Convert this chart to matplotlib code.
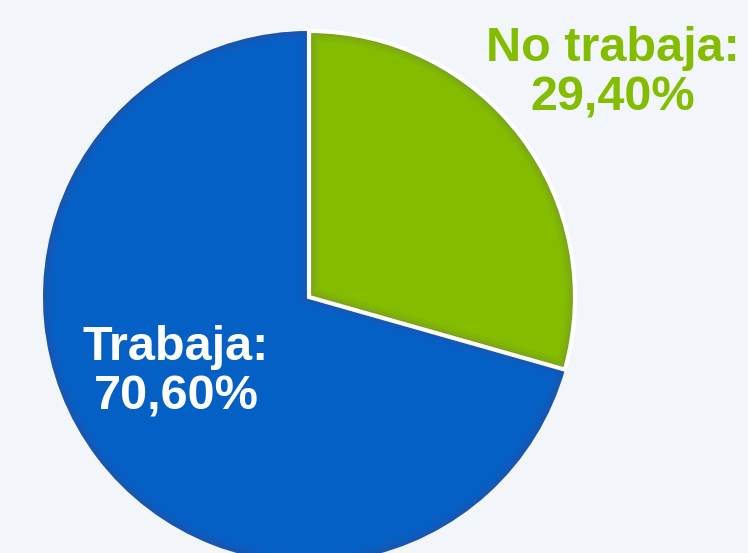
import matplotlib.pyplot as plt
from matplotlib.patches import Wedge

labels = ["Trabaja:\n70,60%", "No trabaja:\n29,40%"]
values = [70.6, 29.4]
colors = ["#0560C6", "#84BD00"]
explode = [0, 0.01]

fig = plt.figure(figsize=(7.48, 5.53), dpi=100)
fig.patch.set_facecolor("#F2F5FA")
ax = fig.add_axes([0, 0, 1, 1])
ax.set_facecolor("#F2F5FA")

# slices go counter-clockwise from the top, blue first
wedges, _ = ax.pie(values, colors=colors, explode=explode, startangle=90,
                   center=(309, 256), radius=266, frame=True)
ax.set_xlim(0, 748)
ax.set_ylim(0, 553)
ax.set_aspect("equal")
ax.axis("off")

# soft dark glow along the inside of each slice edge
for w in wedges:
    for lw, a in [(14, 0.05), (9, 0.07), (5, 0.09), (2.5, 0.12)]:
        g = Wedge(w.center, w.r, w.theta1, w.theta2, facecolor="none",
                  edgecolor="#5a3c78", linewidth=lw, alpha=a)
        ax.add_patch(g)
        g.set_clip_path(w)

# white outline only on the green slice
green = wedges[1]
ax.add_patch(Wedge(green.center, green.r, green.theta1, green.theta2,
                   facecolor="none", edgecolor="white", linewidth=3))

ax.text(176, 181, labels[0], color="white", fontsize=35, fontweight="bold",
        family="Liberation Sans", ha="center", va="center", linespacing=1.12)
ax.text(613, 480, labels[1], color="#84BD00", fontsize=35, fontweight="bold",
        family="Liberation Sans", ha="center", va="center", linespacing=1.12)

fig.savefig("out.png", dpi=100, facecolor=fig.get_facecolor())
